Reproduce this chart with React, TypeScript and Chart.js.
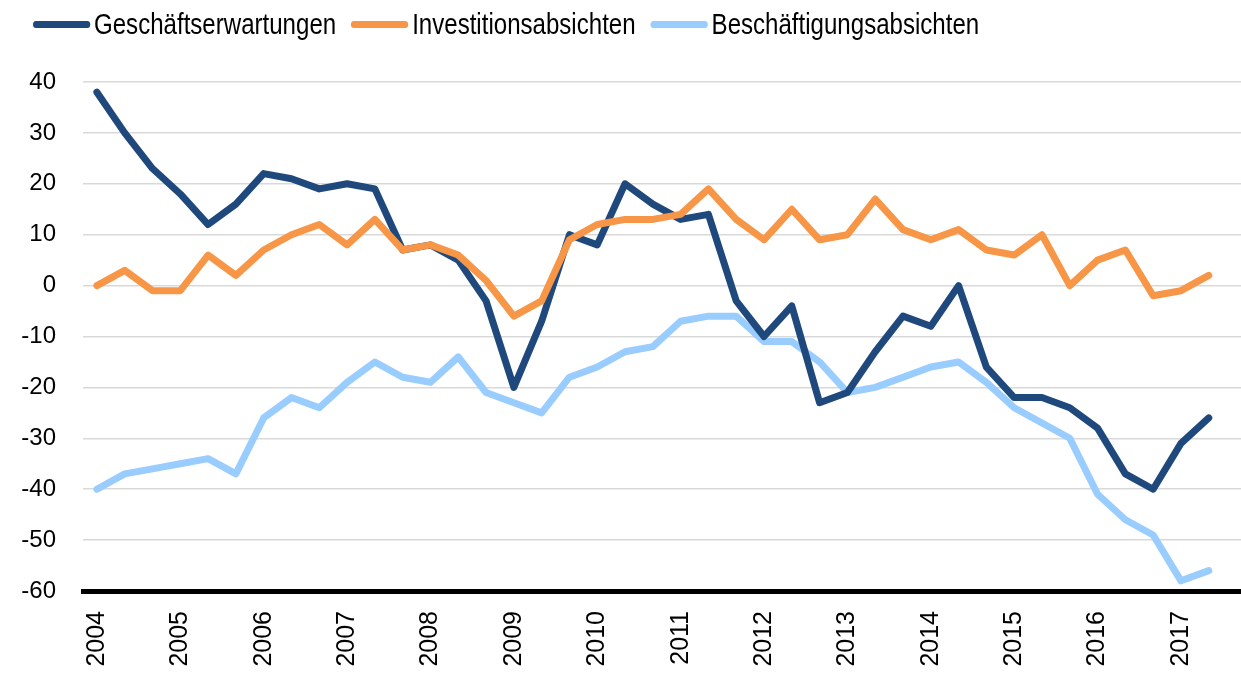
import React, { useEffect, useRef } from "react";
import { Chart, registerables } from "chart.js";

Chart.register(...registerables);

// Tick labels: one label per year, three survey waves per year
const years = ["2004", "2005", "2006", "2007", "2008", "2009", "2010", "2011", "2012", "2013", "2014", "2015", "2016", "2017"];
const wavesPerYear = 3;

const seriesNames = ["Geschäftserwartungen", "Investitionsabsichten", "Beschäftigungsabsichten"];
const seriesColors = ["#1f497d", "#f79646", "#99ccff"];

const geschaeftserwartungen = [38, 30, 23, 18, 12, 16, 22, 21, 19, 20, 19, 7, 8, 5, -3, -20, -7, 10, 8, 20, 16, 13, 14, -3, -10, -4, -23, -21, -13, -6, -8, 0, -16, -22, -22, -24, -28, -37, -40, -31, -26];
const investitionsabsichten = [0, 3, -1, -1, 6, 2, 7, 10, 12, 8, 13, 7, 8, 6, 1, -6, -3, 9, 12, 13, 13, 14, 19, 13, 9, 15, 9, 10, 17, 11, 9, 11, 7, 6, 10, 0, 5, 7, -2, -1, 2];
const beschaeftigungsabsichten = [-40, -37, -36, -35, -34, -37, -26, -22, -24, -19, -15, -18, -19, -14, -21, -23, -25, -18, -16, -13, -12, -7, -6, -6, -11, -11, -15, -21, -20, -18, -16, -15, -19, -24, -27, -30, -41, -46, -49, -58, -56];

const seriesValues = [geschaeftserwartungen, investitionsabsichten, beschaeftigungsabsichten];
const drawOrder = [1, 0, 2];

export default function App() {
  const ref = useRef<HTMLCanvasElement>(null);

  useEffect(() => {
    if (!ref.current) return;
    const toPoints = (arr: number[]) => arr.map((y, i) => ({ x: i, y }));
    const chart = new Chart(ref.current, {
      type: "line",
      data: {
        datasets: seriesNames.map((name, k) => ({
          label: name,
          data: toPoints(seriesValues[k]),
          borderColor: seriesColors[k],
          backgroundColor: seriesColors[k],
          order: drawOrder[k],
        })),
      },
      options: {
        responsive: false,
        animation: false,
        layout: { padding: { top: 82, left: 0, right: 0, bottom: 0 } },
        plugins: { legend: { display: false }, tooltip: { enabled: false } },
        elements: {
          point: { radius: 0, hoverRadius: 0 },
          line: { borderWidth: 7, tension: 0, borderJoinStyle: "round", borderCapStyle: "round" },
        },
        scales: {
          x: {
            type: "linear",
            min: -0.5,
            max: 41.16,
            grid: { display: false, drawTicks: false },
            border: { display: true, color: "#000", width: 5 },
            afterBuildTicks: (s: any) => {
              s.ticks = years.map((_, k) => ({ value: k * wavesPerYear }));
            },
            afterFit: (s: any) => {
              s.height = 83;
            },
            ticks: {
              autoSkip: false,
              maxRotation: 90,
              minRotation: 90,
              padding: 20,
              color: "#000",
              font: { family: "'Liberation Sans', Arial, sans-serif", size: 25 },
              callback: (v: any) => years[Math.round(Number(v) / wavesPerYear)] ?? "",
            },
          },
          y: {
            min: -60,
            max: 40,
            afterFit: (s: any) => {
              s.width = 83;
            },
            grid: { color: "#d9d9d9", lineWidth: 1.5, drawTicks: false },
            border: { display: false },
            ticks: {
              stepSize: 10,
              padding: 27,
              color: "#000",
              font: { family: "'Liberation Sans', Arial, sans-serif", size: 24 },
            },
          },
        },
      },
    });
    return () => chart.destroy();
  }, []);

  // legend text is condensed horizontally; sizes below are pre-divided by the squeeze
  const squeeze = 0.83;

  return (
    <div style={{ position: "absolute", left: 0, top: 0, width: 1241, height: 674, background: "#fff", overflow: "hidden" }}>
      <canvas ref={ref} width={1241} height={674} style={{ display: "block", position: "absolute", left: 0, top: 0 }} />
      <div
        style={{
          position: "absolute",
          left: 33,
          top: 0,
          height: 48,
          display: "flex",
          alignItems: "center",
          fontFamily: "'Liberation Sans', Arial, sans-serif",
          fontSize: 29,
          color: "#000",
          whiteSpace: "nowrap",
          transform: `scaleX(${squeeze})`,
          transformOrigin: "left center",
        }}
      >
        {seriesNames.map((name, k) => (
          <div key={name} style={{ display: "flex", alignItems: "center", marginRight: 15 / squeeze }}>
            <span
              style={{
                display: "inline-block",
                width: 57 / squeeze,
                height: 7,
                borderRadius: 4,
                background: seriesColors[k],
                marginRight: 4 / squeeze,
              }}
            />
            <span>{name}</span>
          </div>
        ))}
      </div>
    </div>
  );
}
